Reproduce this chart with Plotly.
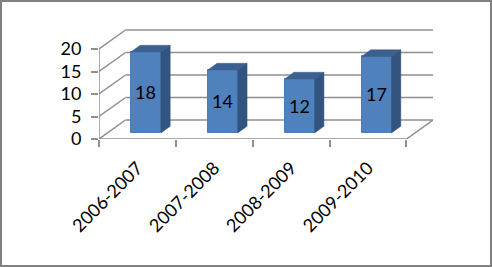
import plotly.graph_objects as go

# ---- data ----
categories = ["2006-2007", "2007-2008", "2008-2009", "2009-2010"]
values = [18, 14, 12, 17]
y_ticks = [0, 5, 10, 15, 20]

# ---- style / geometry (pseudo-3D) ----
W, H = 492, 267
ML, MR, MT, MB = 99, 59, 29, 128
DX = 0.345      # depth offset in category units
DY = 4.22       # depth offset in value units
F0 = 0.32       # front face depth fraction of bars
FD = 0.35       # bar depth fraction
BAR_W = 0.39
GRID = "#8F8F8F"
FRONT = "#4F81BD"
TOP = "#3C6090"
SIDE = "#32547F"
FONT = "Lato"

n = len(categories)
idx = list(range(n))
x_lo, x_hi = -0.5, n - 0.5
plot_h = H - MT - MB
y_top = plot_h / 4.5

fig = go.Figure()

# walls / grid as shapes beneath traces
shapes = []
def seg(x0, y0, x1, y1, xref="x", yref="y"):
    shapes.append(dict(type="line", xref=xref, yref=yref, x0=x0, y0=y0, x1=x1, y1=y1,
                       line=dict(color=GRID, width=1.5), layer="below"))

for t in y_ticks:
    seg(x_lo + DX, t + DY, x_hi + DX, t + DY)          # back wall line
    seg(x_lo, t, x_lo + DX, t + DY)                    # left wall diagonal
seg(x_hi, 0, x_hi + DX, DY)                            # floor right edge
seg(x_lo, 0, x_hi, 0)                                  # front floor edge
seg(x_lo, 0, x_lo, max(y_ticks))                       # front vertical axis

# bars (front faces)
bar_x = [i + DX * F0 for i in idx]
base = DY * F0
fig.add_trace(go.Bar(
    x=bar_x, y=values, base=[base] * n, width=BAR_W,
    marker=dict(color=FRONT, line=dict(color="#4A7EBB", width=1)),
    text=[str(v) for v in values], textposition="inside", insidetextanchor="middle",
    textangle=0, constraintext="none",
    textfont=dict(family=FONT, size=18, color="black"),
    hoverinfo="skip", showlegend=False,
))

# top and side faces
ddx, ddy = DX * FD, DY * FD
for xc, v in zip(bar_x, values):
    xl, xr = xc - BAR_W / 2, xc + BAR_W / 2
    top = base + v
    fig.add_trace(go.Scatter(
        x=[xl, xr, xr + ddx, xl + ddx, xl], y=[top, top, top + ddy, top + ddy, top],
        mode="lines", fill="toself", fillcolor=TOP, line=dict(color=TOP, width=0.5),
        hoverinfo="skip", showlegend=False))
    fig.add_trace(go.Scatter(
        x=[xr, xr + ddx, xr + ddx, xr, xr], y=[base, base + ddy, top + ddy, top, base],
        mode="lines", fill="toself", fillcolor=SIDE, line=dict(color=SIDE, width=0.5),
        hoverinfo="skip", showlegend=False))

# invisible trace for the category label axis
fig.add_trace(go.Scatter(x=idx, y=[0] * n, xaxis="x2", yaxis="y", mode="markers",
                         marker=dict(opacity=0), hoverinfo="skip", showlegend=False))

# outer border
shapes.append(dict(type="rect", xref="paper", yref="paper",
                   x0=(1 - ML) / (W - ML - MR), x1=(W - 1 - ML) / (W - ML - MR),
                   y0=-(MB - 1) / plot_h, y1=(plot_h + MT - 1) / plot_h,
                   line=dict(color="#808080", width=2), layer="above"))

fig.update_layout(
    width=W, height=H,
    margin=dict(l=ML, r=MR, t=MT, b=MB, pad=0),
    paper_bgcolor="white", plot_bgcolor="rgba(0,0,0,0)",
    shapes=shapes, showlegend=False, bargap=0,
    font=dict(family=FONT, size=18, color="black"),
    xaxis=dict(range=[x_lo, x_hi + DX], tickmode="array",
               tickvals=[i - 0.5 for i in idx] + [x_hi],
               ticks="outside", ticklen=7, tickwidth=1.5, tickcolor=GRID,
               showticklabels=False, showgrid=False, zeroline=False, showline=False,
               fixedrange=True),
    xaxis2=dict(range=[x_lo, x_hi + DX], overlaying="x", anchor="y", side="bottom",
                tickmode="array", tickvals=idx, ticktext=categories, tickangle=-45,
                ticks="", showgrid=False, zeroline=False, showline=False,
                tickfont=dict(family=FONT, size=18, color="black"), ticklabelstandoff=14),
    yaxis=dict(range=[0, y_top], tickmode="array", tickvals=y_ticks,
               ticks="outside", ticklen=7, tickwidth=1.5, tickcolor=GRID,
               showgrid=False, zeroline=False, showline=False,
               tickfont=dict(family=FONT, size=18, color="black"), ticklabelstandoff=6),
)

fig.write_html("out.html")
